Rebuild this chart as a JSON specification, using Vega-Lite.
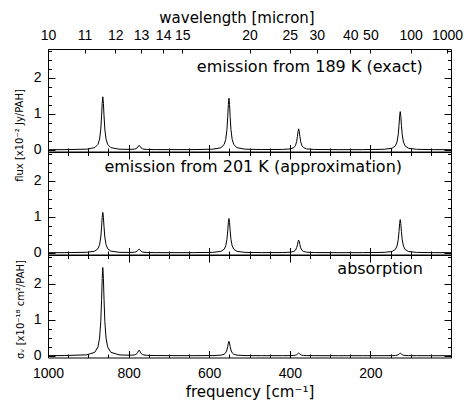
{
  "$schema": "https://vega.github.io/schema/vega-lite/v6.json",
  "padding": {"left": 14, "top": 9, "right": 5, "bottom": 0},
  "background": "white",
  "datasets": {
    "spec": [
      {"f":1000,"e189":0,"e201":0,"abs":0.002},
      {"f":960,"e189":0.002,"e201":0.001,"abs":0.004},
      {"f":904,"e189":0.015,"e201":0.011,"abs":0.024},
      {"f":884,"e189":0.057,"e201":0.043,"abs":0.094},
      {"f":876,"e189":0.147,"e201":0.112,"abs":0.245},
      {"f":872,"e189":0.294,"e201":0.224,"abs":0.49},
      {"f":869,"e189":0.573,"e201":0.437,"abs":0.956},
      {"f":867,"e189":0.941,"e201":0.717,"abs":1.568},
      {"f":865.5,"e189":1.289,"e201":0.982,"abs":2.149},
      {"f":864,"e189":1.47,"e201":1.12,"abs":2.45},
      {"f":862.5,"e189":1.289,"e201":0.982,"abs":2.149},
      {"f":861,"e189":0.941,"e201":0.717,"abs":1.568},
      {"f":859,"e189":0.573,"e201":0.437,"abs":0.956},
      {"f":856,"e189":0.294,"e201":0.224,"abs":0.49},
      {"f":852,"e189":0.147,"e201":0.112,"abs":0.245},
      {"f":844,"e189":0.057,"e201":0.043,"abs":0.095},
      {"f":824,"e189":0.015,"e201":0.012,"abs":0.025},
      {"f":814,"e189":0.011,"e201":0.008,"abs":0.017},
      {"f":794,"e189":0.009,"e201":0.008,"abs":0.014},
      {"f":786,"e189":0.016,"e201":0.013,"abs":0.021},
      {"f":782,"e189":0.028,"e201":0.023,"abs":0.036},
      {"f":779,"e189":0.05,"e201":0.042,"abs":0.065},
      {"f":777,"e189":0.08,"e201":0.067,"abs":0.101},
      {"f":775.5,"e189":0.108,"e201":0.09,"abs":0.137},
      {"f":774,"e189":0.123,"e201":0.102,"abs":0.155},
      {"f":772.5,"e189":0.108,"e201":0.09,"abs":0.137},
      {"f":771,"e189":0.08,"e201":0.066,"abs":0.101},
      {"f":769,"e189":0.05,"e201":0.041,"abs":0.064},
      {"f":766,"e189":0.027,"e201":0.022,"abs":0.035},
      {"f":762,"e189":0.015,"e201":0.012,"abs":0.02},
      {"f":754,"e189":0.007,"e201":0.006,"abs":0.01},
      {"f":734,"e189":0.003,"e201":0.002,"abs":0.004},
      {"f":700,"e189":0.003,"e201":0.002,"abs":0.002},
      {"f":640,"e189":0.003,"e201":0.002,"abs":0.001},
      {"f":591,"e189":0.014,"e201":0.009,"abs":0.004},
      {"f":571,"e189":0.055,"e201":0.037,"abs":0.015},
      {"f":563,"e189":0.143,"e201":0.095,"abs":0.04},
      {"f":559,"e189":0.286,"e201":0.19,"abs":0.08},
      {"f":556,"e189":0.558,"e201":0.371,"abs":0.156},
      {"f":554,"e189":0.915,"e201":0.608,"abs":0.256},
      {"f":552.5,"e189":1.254,"e201":0.833,"abs":0.351},
      {"f":551,"e189":1.43,"e201":0.95,"abs":0.4},
      {"f":549.5,"e189":1.254,"e201":0.833,"abs":0.351},
      {"f":548,"e189":0.915,"e201":0.608,"abs":0.256},
      {"f":546,"e189":0.558,"e201":0.371,"abs":0.156},
      {"f":543,"e189":0.286,"e201":0.19,"abs":0.08},
      {"f":539,"e189":0.143,"e201":0.095,"abs":0.04},
      {"f":531,"e189":0.055,"e201":0.037,"abs":0.015},
      {"f":511,"e189":0.014,"e201":0.009,"abs":0.004},
      {"f":470,"e189":0.005,"e201":0.003,"abs":0.001},
      {"f":418,"e189":0.007,"e201":0.004,"abs":0.001},
      {"f":398,"e189":0.023,"e201":0.014,"abs":0.003},
      {"f":390,"e189":0.058,"e201":0.035,"abs":0.007},
      {"f":386,"e189":0.116,"e201":0.07,"abs":0.014},
      {"f":383,"e189":0.226,"e201":0.137,"abs":0.027},
      {"f":381,"e189":0.371,"e201":0.224,"abs":0.045},
      {"f":379.5,"e189":0.509,"e201":0.307,"abs":0.061},
      {"f":378,"e189":0.58,"e201":0.35,"abs":0.07},
      {"f":376.5,"e189":0.509,"e201":0.307,"abs":0.061},
      {"f":375,"e189":0.371,"e201":0.224,"abs":0.045},
      {"f":373,"e189":0.226,"e201":0.137,"abs":0.027},
      {"f":370,"e189":0.116,"e201":0.07,"abs":0.014},
      {"f":366,"e189":0.058,"e201":0.035,"abs":0.007},
      {"f":358,"e189":0.022,"e201":0.014,"abs":0.003},
      {"f":338,"e189":0.006,"e201":0.004,"abs":0.001},
      {"f":280,"e189":0.002,"e201":0.001,"abs":0},
      {"f":220,"e189":0.002,"e201":0.002,"abs":0},
      {"f":166,"e189":0.011,"e201":0.009,"abs":0.001},
      {"f":146,"e189":0.041,"e201":0.035,"abs":0.003},
      {"f":138,"e189":0.106,"e201":0.092,"abs":0.007},
      {"f":134,"e189":0.212,"e201":0.184,"abs":0.014},
      {"f":131,"e189":0.413,"e201":0.359,"abs":0.027},
      {"f":129,"e189":0.678,"e201":0.589,"abs":0.045},
      {"f":127.5,"e189":0.93,"e201":0.807,"abs":0.061},
      {"f":126,"e189":1.06,"e201":0.92,"abs":0.07},
      {"f":124.5,"e189":0.93,"e201":0.807,"abs":0.061},
      {"f":123,"e189":0.678,"e201":0.589,"abs":0.045},
      {"f":121,"e189":0.413,"e201":0.359,"abs":0.027},
      {"f":118,"e189":0.212,"e201":0.184,"abs":0.014},
      {"f":114,"e189":0.106,"e201":0.092,"abs":0.007},
      {"f":106,"e189":0.041,"e201":0.035,"abs":0.003},
      {"f":86,"e189":0.011,"e201":0.009,"abs":0.001},
      {"f":40,"e189":0.002,"e201":0.002,"abs":0},
      {"f":0,"e189":0.001,"e201":0.001,"abs":0}
    ]
  },
  "vconcat": [
    {
      "width": 403, "height": 102.5,
      "data": {"name": "spec"},
      "layer": [
        {"mark": {"type": "line", "color": "black", "strokeWidth": 1},
         "encoding": {
           "x": {"field": "f", "type": "quantitative", "scale": {"domain": [0, 1000], "reverse": true, "nice": false, "zero": false}, "axis": null},
           "y": {"field": "e189", "type": "quantitative", "scale": {"domain": [-0.05, 2.8], "nice": false, "zero": false},
                 "axis": {"orient": "left", "values": [0, 1, 2], "ticks": false, "labelPadding": 7, "title": "flux [x10⁻² Jy/PAH]", "titleFontSize": 10, "titleAngle": -90, "titleBaseline": "middle", "titleAlign": "center", "titleX": -28.5, "titleY": 86}}}},
        {"mark": {"type": "line", "strokeOpacity": 0},
         "encoding": {
           "x": {"field": "f", "type": "quantitative", "scale": {"domain": [0, 1000], "reverse": true, "nice": false, "zero": false}, "axis": {"orient": "bottom", "values": [1000, 800, 600, 400, 200, 0], "labels": false, "tickSize": -7, "title": null}},
           "y": {"field": "e189", "type": "quantitative", "scale": {"domain": [-0.05, 2.8], "nice": false, "zero": false}, "axis": {"orient": "left", "values": [0, 1, 2], "labels": false, "tickSize": -7, "title": null}}}},
        {"mark": {"type": "line", "strokeOpacity": 0},
         "encoding": {
           "x": {"field": "f", "type": "quantitative", "scale": {"domain": [0, 1000], "reverse": true, "nice": false, "zero": false}, "axis": {"orient": "bottom", "values": [950, 900, 850, 750, 700, 650, 550, 500, 450, 350, 300, 250, 150, 100, 50], "labels": false, "tickSize": -3.5, "title": null}},
           "y": {"field": "e189", "type": "quantitative", "scale": {"domain": [-0.05, 2.8], "nice": false, "zero": false}, "axis": {"orient": "left", "values": [0.25, 0.5, 0.75, 1.25, 1.5, 1.75, 2.25, 2.5, 2.75], "labels": false, "tickSize": -3.5, "title": null}}}},
        {"mark": {"type": "line", "strokeOpacity": 0},
         "encoding": {
           "x": {"field": "f", "type": "quantitative", "scale": {"domain": [0, 1000], "reverse": true, "nice": false, "zero": false}, "axis": {"orient": "top", "values": [1000, 909.0909, 833.3333, 769.2308, 714.2857, 666.6667, 500, 400, 333.3333, 250, 200, 100, 10], "labels": false, "tickSize": -4, "title": null}},
           "y": {"field": "e189", "type": "quantitative", "scale": {"domain": [-0.05, 2.8], "nice": false, "zero": false}, "axis": {"orient": "right", "values": [0, 1, 2], "labels": false, "tickSize": -7, "title": null}}}},
        {"mark": {"type": "line", "strokeOpacity": 0},
         "encoding": {
           "x": {"field": "f", "type": "quantitative", "scale": {"domain": [0, 1000], "reverse": true, "nice": false, "zero": false}, "axis": {"orient": "top", "values": [1000, 909.0909, 833.3333, 769.2308, 714.2857, 666.6667, 500, 400, 333.3333, 250, 200, 100, 10], "ticks": false, "labelExpr": "'' + round(10000 / datum.value)", "labelPadding": 7, "title": "wavelength [micron]", "titlePadding": 3, "titleX": 188.5, "titleAlign": "center"}},
           "y": {"field": "e189", "type": "quantitative", "scale": {"domain": [-0.05, 2.8], "nice": false, "zero": false}, "axis": {"orient": "right", "values": [0.25, 0.5, 0.75, 1.25, 1.5, 1.75, 2.25, 2.5, 2.75], "labels": false, "tickSize": -3.5, "title": null}}}},
        {"data": {"values": [{"f": 70, "v": 2.15, "label": "emission from 189 K (exact)"}]},
         "mark": {"type": "text", "align": "right", "baseline": "alphabetic", "font": "DejaVu Sans", "fontSize": 16, "color": "black"},
         "encoding": {
           "x": {"field": "f", "type": "quantitative", "scale": {"domain": [0, 1000], "reverse": true, "nice": false, "zero": false}, "axis": null},
           "y": {"field": "v", "type": "quantitative", "scale": {"domain": [-0.05, 2.8], "nice": false, "zero": false}, "axis": null},
           "text": {"field": "label"}}}
      ],
      "resolve": {"axis": {"x": "independent", "y": "independent"}}
    },
    {
      "width": 403, "height": 102.5,
      "data": {"name": "spec"},
      "layer": [
        {"mark": {"type": "line", "color": "black", "strokeWidth": 1},
         "encoding": {
           "x": {"field": "f", "type": "quantitative", "scale": {"domain": [0, 1000], "reverse": true, "nice": false, "zero": false}, "axis": null},
           "y": {"field": "e201", "type": "quantitative", "scale": {"domain": [-0.05, 2.8], "nice": false, "zero": false},
                 "axis": {"orient": "left", "values": [0, 1, 2], "ticks": false, "labelPadding": 7, "title": null}}}},
        {"mark": {"type": "line", "strokeOpacity": 0},
         "encoding": {
           "x": {"field": "f", "type": "quantitative", "scale": {"domain": [0, 1000], "reverse": true, "nice": false, "zero": false}, "axis": {"orient": "bottom", "values": [1000, 800, 600, 400, 200, 0], "labels": false, "tickSize": -7, "title": null}},
           "y": {"field": "e201", "type": "quantitative", "scale": {"domain": [-0.05, 2.8], "nice": false, "zero": false}, "axis": {"orient": "left", "values": [0, 1, 2], "labels": false, "tickSize": -7, "title": null}}}},
        {"mark": {"type": "line", "strokeOpacity": 0},
         "encoding": {
           "x": {"field": "f", "type": "quantitative", "scale": {"domain": [0, 1000], "reverse": true, "nice": false, "zero": false}, "axis": {"orient": "bottom", "values": [950, 900, 850, 750, 700, 650, 550, 500, 450, 350, 300, 250, 150, 100, 50], "labels": false, "tickSize": -3.5, "title": null}},
           "y": {"field": "e201", "type": "quantitative", "scale": {"domain": [-0.05, 2.8], "nice": false, "zero": false}, "axis": {"orient": "left", "values": [0.25, 0.5, 0.75, 1.25, 1.5, 1.75, 2.25, 2.5, 2.75], "labels": false, "tickSize": -3.5, "title": null}}}},
        {"mark": {"type": "line", "strokeOpacity": 0},
         "encoding": {
           "x": {"field": "f", "type": "quantitative", "scale": {"domain": [0, 1000], "reverse": true, "nice": false, "zero": false}, "axis": {"orient": "top", "values": [1000, 800, 600, 400, 200, 0], "labels": false, "tickSize": -7, "title": null}},
           "y": {"field": "e201", "type": "quantitative", "scale": {"domain": [-0.05, 2.8], "nice": false, "zero": false}, "axis": {"orient": "right", "values": [0, 1, 2], "labels": false, "tickSize": -7, "title": null}}}},
        {"mark": {"type": "line", "strokeOpacity": 0},
         "encoding": {
           "x": {"field": "f", "type": "quantitative", "scale": {"domain": [0, 1000], "reverse": true, "nice": false, "zero": false}, "axis": {"orient": "top", "values": [950, 900, 850, 750, 700, 650, 550, 500, 450, 350, 300, 250, 150, 100, 50], "labels": false, "tickSize": -3.5, "title": null}},
           "y": {"field": "e201", "type": "quantitative", "scale": {"domain": [-0.05, 2.8], "nice": false, "zero": false}, "axis": {"orient": "right", "values": [0.25, 0.5, 0.75, 1.25, 1.5, 1.75, 2.25, 2.5, 2.75], "labels": false, "tickSize": -3.5, "title": null}}}},
        {"data": {"values": [{"f": 860, "v": 2.24, "label": "emission from 201 K (approximation)"}]},
         "mark": {"type": "text", "align": "left", "baseline": "alphabetic", "font": "DejaVu Sans", "fontSize": 16, "color": "black"},
         "encoding": {
           "x": {"field": "f", "type": "quantitative", "scale": {"domain": [0, 1000], "reverse": true, "nice": false, "zero": false}, "axis": null},
           "y": {"field": "v", "type": "quantitative", "scale": {"domain": [-0.05, 2.8], "nice": false, "zero": false}, "axis": null},
           "text": {"field": "label"}}}
      ],
      "resolve": {"axis": {"x": "independent", "y": "independent"}}
    },
    {
      "width": 403, "height": 102.5,
      "data": {"name": "spec"},
      "layer": [
        {"mark": {"type": "line", "color": "black", "strokeWidth": 1},
         "encoding": {
           "x": {"field": "f", "type": "quantitative", "scale": {"domain": [0, 1000], "reverse": true, "nice": false, "zero": false},
                 "axis": {"orient": "bottom", "values": [1000, 800, 600, 400, 200], "format": "d", "ticks": false, "labelPadding": 9, "title": "frequency [cm⁻¹]", "titlePadding": 4}},
           "y": {"field": "abs", "type": "quantitative", "scale": {"domain": [-0.05, 2.8], "nice": false, "zero": false},
                 "axis": {"orient": "left", "values": [0, 1, 2], "ticks": false, "labelPadding": 7, "title": "σᵥ [x10⁻¹⁸ cm²/PAH]", "titleFontSize": 10, "titleAngle": -90, "titleBaseline": "middle", "titleAlign": "center", "titleX": -27.5, "titleY": 54}}}},
        {"mark": {"type": "line", "strokeOpacity": 0},
         "encoding": {
           "x": {"field": "f", "type": "quantitative", "scale": {"domain": [0, 1000], "reverse": true, "nice": false, "zero": false}, "axis": {"orient": "bottom", "values": [1000, 800, 600, 400, 200, 0], "labels": false, "tickSize": -7, "title": null}},
           "y": {"field": "abs", "type": "quantitative", "scale": {"domain": [-0.05, 2.8], "nice": false, "zero": false}, "axis": {"orient": "left", "values": [0, 1, 2], "labels": false, "tickSize": -7, "title": null}}}},
        {"mark": {"type": "line", "strokeOpacity": 0},
         "encoding": {
           "x": {"field": "f", "type": "quantitative", "scale": {"domain": [0, 1000], "reverse": true, "nice": false, "zero": false}, "axis": {"orient": "bottom", "values": [950, 900, 850, 750, 700, 650, 550, 500, 450, 350, 300, 250, 150, 100, 50], "labels": false, "tickSize": -3.5, "title": null}},
           "y": {"field": "abs", "type": "quantitative", "scale": {"domain": [-0.05, 2.8], "nice": false, "zero": false}, "axis": {"orient": "left", "values": [0.25, 0.5, 0.75, 1.25, 1.5, 1.75, 2.25, 2.5, 2.75], "labels": false, "tickSize": -3.5, "title": null}}}},
        {"mark": {"type": "line", "strokeOpacity": 0},
         "encoding": {
           "x": {"field": "f", "type": "quantitative", "scale": {"domain": [0, 1000], "reverse": true, "nice": false, "zero": false}, "axis": {"orient": "top", "values": [1000, 800, 600, 400, 200, 0], "labels": false, "tickSize": -7, "title": null}},
           "y": {"field": "abs", "type": "quantitative", "scale": {"domain": [-0.05, 2.8], "nice": false, "zero": false}, "axis": {"orient": "right", "values": [0, 1, 2], "labels": false, "tickSize": -7, "title": null}}}},
        {"mark": {"type": "line", "strokeOpacity": 0},
         "encoding": {
           "x": {"field": "f", "type": "quantitative", "scale": {"domain": [0, 1000], "reverse": true, "nice": false, "zero": false}, "axis": {"orient": "top", "values": [950, 900, 850, 750, 700, 650, 550, 500, 450, 350, 300, 250, 150, 100, 50], "labels": false, "tickSize": -3.5, "title": null}},
           "y": {"field": "abs", "type": "quantitative", "scale": {"domain": [-0.05, 2.8], "nice": false, "zero": false}, "axis": {"orient": "right", "values": [0.25, 0.5, 0.75, 1.25, 1.5, 1.75, 2.25, 2.5, 2.75], "labels": false, "tickSize": -3.5, "title": null}}}},
        {"data": {"values": [{"f": 70, "v": 2.27, "label": "absorption"}]},
         "mark": {"type": "text", "align": "right", "baseline": "alphabetic", "font": "DejaVu Sans", "fontSize": 16, "color": "black"},
         "encoding": {
           "x": {"field": "f", "type": "quantitative", "scale": {"domain": [0, 1000], "reverse": true, "nice": false, "zero": false}, "axis": null},
           "y": {"field": "v", "type": "quantitative", "scale": {"domain": [-0.05, 2.8], "nice": false, "zero": false}, "axis": null},
           "text": {"field": "label"}}}
      ],
      "resolve": {"axis": {"x": "independent", "y": "independent"}}
    }
  ],
  "spacing": 0,
  "bounds": "flush",
  "config": {
    "view": {"stroke": "black", "strokeWidth": 1},
    "axis": {"domain": false, "grid": false, "tickColor": "black", "tickWidth": 1, "labelColor": "black", "labelFont": "Liberation Sans", "labelFontSize": 14, "labelOverlap": false, "labelFlush": false, "titleColor": "black", "titleFont": "DejaVu Sans", "titleFontWeight": "normal", "titleFontSize": 15}
  }
}
